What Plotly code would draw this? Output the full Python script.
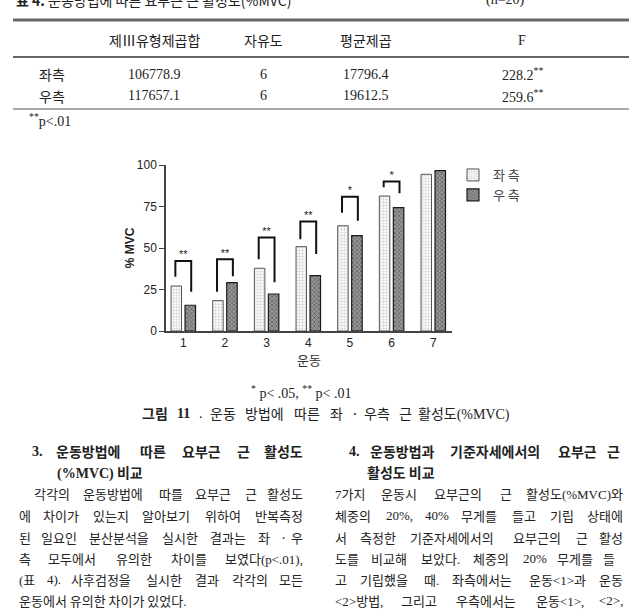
import plotly.graph_objects as go

# ---------------- data ----------------
categories = [1, 2, 3, 4, 5, 6, 7]
left_vals = [27.1, 18.3, 37.8, 50.8, 63.4, 81.3, 94.4]    # 좌측
right_vals = [15.5, 29.1, 22.3, 33.3, 57.4, 74.3, 96.6]   # 우측
series_names = ["좌 측", "우 측"]

sig_cats = [1, 2, 3, 4, 5, 6]
sig_top = [42.2, 43.2, 56.4, 65.9, 80.9, 90.0]
sig_left_end = [32.7, 23.7, 43.2, 55.2, 71.3, 86.6]
sig_right_end = [23.7, 33.0, 29.3, 46.4, 66.4, 83.0]
sig_marks = ["**", "**", "**", "**", "*", "*"]

y_ticks = [0, 25, 50, 75, 100]

table_header = ["제Ⅲ유형제곱합", "자유도", "평균제곱", "F"]
table_rows = ["좌측", "우측"]
table_ss = ["106778.9", "117657.1"]
table_df = ["6", "6"]
table_ms = ["17796.4", "19612.5"]
table_f = ["228.2", "259.6"]

left_col_lines = [
    "각각의 운동방법에 따를 요부근 근 활성도",
    "에 차이가 있는지 알아보기 위하여 반복측정",
    "된 일요인 분산분석을 실시한 결과는 좌 · 우",
    "측 모두에서 유의한 차이를 보였다(p<.01),",
    "(표 4). 사후검정을 실시한 결과 각각의 모든",
    "운동에서 유의한 차이가 있었다.",
]
right_col_lines = [
    "7가지 운동시 요부근의 근 활성도(%MVC)와",
    "체중의 20%, 40% 무게를 들고 기립 상태에",
    "서 측정한 기준자세에서의 요부근의 근 활성",
    "도를 비교해 보았다. 체중의 20% 무게를 들",
    "고 기립했을 때. 좌측에서는 운동<1>과 운동",
    "<2>방법, 그리고 우측에서는 운동<1>, <2>,",
]

# ---------------- geometry helpers ----------------
FW, FH = 629, 615
L, R, T, B = 166, 452, 165, 331
PW, PH = R - L, B - T


def PX(x):
    return (x - L) / PW


def PY(y):
    return (B - y) / PH


KR = "Noto Sans CJK KR"
SERIF = "Liberation Serif"


def esc(s):
    return s.replace("&", "&amp;").replace("<", "&lt;").replace(">", "&gt;")


def markup(s):
    """wrap ASCII runs in a serif span, hangul stays sans."""
    out, run = [], ""
    for ch in s:
        if ord(ch) < 128 and ch != " ":
            run += ch
        else:
            if run:
                out.append('<span style="font-family:Liberation Serif">' + esc(run) + "</span>")
                run = ""
            out.append(esc(ch))
    if run:
        out.append('<span style="font-family:Liberation Serif">' + esc(run) + "</span>")
    return "".join(out)


def est_w(s, fs):
    w = 0.0
    for ch in s:
        o = ord(ch)
        if 0xAC00 <= o <= 0xD7A3 or 0x2160 <= o <= 0x217F or 0x3130 <= o <= 0x318F:
            w += 1.0 * fs
        elif ch in ".,":
            w += 0.25 * fs
        elif ch in "()":
            w += 0.333 * fs
        elif ch == "%":
            w += 0.833 * fs
        elif ch.isdigit():
            w += 0.5 * fs
        elif ch in "<>":
            w += 0.564 * fs
        elif ch == "·":
            w += 0.4 * fs
        elif ch.isupper():
            w += 0.72 * fs
        else:
            w += 0.5 * fs
    return w


annotations = []


def text(x, y, s, size=13, family=KR, anchor="left", color="#222", valign="middle"):
    annotations.append(dict(
        x=PX(x), y=PY(y), xref="paper", yref="paper", text=s, showarrow=False,
        xanchor=anchor, yanchor=valign, font=dict(family=family, size=size, color=color)))


def justify(s, x0, x1, y, size=13, bold=False, bold_words=0):
    words = s.split(" ")
    widths = [est_w(w, size) for w in words]
    gap = (x1 - x0 - sum(widths)) / max(len(words) - 1, 1)
    x = x0
    for i, w in enumerate(words):
        t = markup(w)
        if bold or i < bold_words:
            t = "<b>" + t + "</b>"
        if i == len(words) - 1 and len(words) > 1:
            text(x1, y, t, size=size, anchor="right")
        else:
            text(x, y, t, size=size, anchor="left")
        x += widths[i] + gap


# ---------------- figure ----------------
fig = go.Figure()

fig.add_trace(go.Bar(
    x=categories, y=left_vals, name=series_names[0],
    marker=dict(color="#f6f6f6",
                line=dict(color="#555", width=1),
                pattern=dict(shape="+", fgcolor="#b5b5b5", bgcolor="#f8f8f8", size=3, solidity=0.35)),
))
fig.add_trace(go.Bar(
    x=categories, y=right_vals, name=series_names[1],
    marker=dict(color="#777",
                line=dict(color="#1a1a1a", width=1.2),
                pattern=dict(shape="x", fgcolor="#222", bgcolor="#9a9a9a", size=3, solidity=0.45)),
))

# significance brackets
bx, by = [], []
off = 0.19
for c, t, le, re in zip(sig_cats, sig_top, sig_left_end, sig_right_end):
    bx += [c - off, c - off, c + off, c + off, None]
    by += [le, t, t, re, None]
fig.add_trace(go.Scatter(x=bx, y=by, mode="lines", line=dict(color="#111", width=2),
                         showlegend=False, hoverinfo="skip", cliponaxis=False))
fig.add_trace(go.Scatter(x=sig_cats, y=sig_top, mode="text", text=sig_marks,
                         textposition="top center", textfont=dict(size=11, color="#222", family="Arial"),
                         showlegend=False, hoverinfo="skip", cliponaxis=False))

# ---------------- page text: table ----------------
text(14, 0, "<b>표 4.</b> 운동방법에 따른 요부근 근 활성도(%MVC)", size=14)
text(484, 0, markup("(n=20)"), size=14)

col_x = [154, 263, 366, 522]
hdr_y, r1_y, r2_y = 40, 74, 96
for cx, h in zip(col_x, table_header):
    text(cx, hdr_y, markup(h), size=14, anchor="center", family=KR if h != "F" else SERIF)
for ry, lab, a, b, c, f in zip([r1_y, r2_y], table_rows, table_ss, table_df, table_ms, table_f):
    text(52, ry, lab, size=14, anchor="center")
    text(col_x[0], ry, a, size=14, family=SERIF, anchor="center")
    text(col_x[1], ry, b, size=14, family=SERIF, anchor="center")
    text(col_x[2], ry, c, size=14, family=SERIF, anchor="center")
    text(col_x[3], ry, f + "<sup>**</sup>", size=14, family=SERIF, anchor="center")
text(27, 120, "<sup>**</sup>p&lt;.01", size=14, family=SERIF)

shapes = [
    dict(type="line", xref="paper", yref="paper", x0=PX(13), x1=PX(629), y0=PY(20), y1=PY(20),
         line=dict(color="#666", width=3)),
    dict(type="line", xref="paper", yref="paper", x0=PX(13), x1=PX(629), y0=PY(57), y1=PY(57),
         line=dict(color="#333", width=1.5)),
    dict(type="line", xref="paper", yref="paper", x0=PX(13), x1=PX(629), y0=PY(109), y1=PY(109),
         line=dict(color="#555", width=1)),
]

# ---------------- figure caption ----------------
text(301, 392, '<sup>*</sup> p&lt; .05, <sup>**</sup> p&lt; .01', size=14, family=SERIF, anchor="center")
justify("그림 11 . 운동 방법에 따른 좌 · 우측 근 활성도(%MVC)", 140, 512, 413, size=14, bold_words=2)

# ---------------- body columns ----------------
justify("3. 운동방법에 따른 요부근 근 활성도", 30, 305, 451, size=14, bold=True)
text(55, 472, "<b>" + markup("(%MVC)") + " 비교</b>", size=14)
body_y = [493, 515, 537, 558, 579, 600]
for i, (s, y) in enumerate(zip(left_col_lines, body_y)):
    x0 = 32 if i == 0 else 17
    if i == len(left_col_lines) - 1:
        text(x0, y, markup(s), size=13)
    else:
        justify(s, x0, 305, y, size=13)

justify("4. 운동방법과 기준자세에서의 요부근 근", 347, 622, 451, size=14, bold=True)
text(365, 472, "<b>활성도 비교</b>", size=14)
right_x1 = [625, 625, 625, 617, 625, 625]
for s, y, x1 in zip(right_col_lines, body_y, right_x1):
    justify(s, 333, x1, y, size=13)

fig.update_layout(
    width=FW, height=FH,
    margin=dict(l=L, r=FW - R, t=T, b=FH - B, pad=0),
    paper_bgcolor="white", plot_bgcolor="white",
    barmode="group", bargap=0.328, bargroupgap=0.25,
    font=dict(family="Arial", color="#222"),
    annotations=annotations, shapes=shapes,
    legend=dict(x=PX(453), y=PY(160), xanchor="left", yanchor="top", bgcolor="rgba(0,0,0,0)",
                font=dict(family=KR, size=13, color="#444"), tracegroupgap=2),
    xaxis=dict(range=[0.585, 7.45], tickmode="array", tickvals=categories,
               showline=True, linecolor="#444", linewidth=1.5, ticks="", showgrid=False, zeroline=False,
               tickfont=dict(size=12, color="#222", family="Arial"),
               title=dict(text="운동", font=dict(family=KR, size=13, color="#333"), standoff=1)),
    yaxis=dict(range=[0, 100], tickmode="array", tickvals=y_ticks,
               showline=True, linecolor="#444", linewidth=1.5, ticks="outside", ticklen=5,
               tickcolor="#444", showgrid=False, zeroline=False,
               tickfont=dict(size=12, color="#222", family="Arial"),
               title=dict(text="<b>% MVC</b>", font=dict(family="Arial", size=12, color="#222"), standoff=0)),
)

fig.write_html("out.html")
